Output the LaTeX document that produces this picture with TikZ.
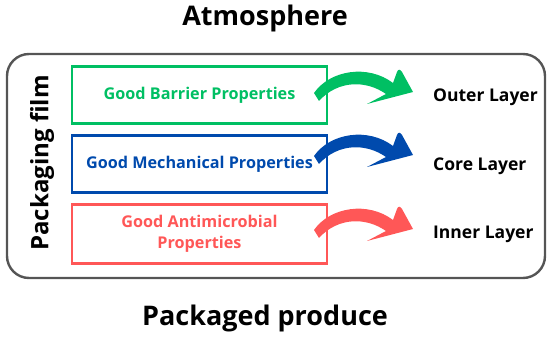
\documentclass[tikz,border=0pt]{standalone}
\usepackage{fontspec}
\setmainfont{Open Sans}
\definecolor{cgreen}{HTML}{00BF63}
\definecolor{cblue}{HTML}{004AAD}
\definecolor{cred}{HTML}{FF5757}
\definecolor{frame}{HTML}{555555}
\tikzset{
  propbox/.style={draw=#1, line width=2.4pt, minimum width=255pt, minimum height=57pt, text=#1, font=\bfseries\fontsize{16.2}{21}\selectfont, align=center, inner sep=0pt},
  layerlbl/.style={anchor=west, font=\bfseries\fontsize{17.5}{20}\selectfont, inner sep=0pt},
  titlelbl/.style={font=\bfseries\fontsize{27}{32}\selectfont, inner sep=0pt},
}
\newcommand{\bentarrow}[2]{%
  \fill[#1, yshift=-#2pt] (314,93) .. controls (330,70) and (368,64) .. (393,83) -- (397,72) .. controls (398,69) and (400,69) .. (402,72) -- (413,92) -- (367,104) -- (386,94) .. controls (366,80) and (338,80) .. (319,101) -- cycle;}
\begin{document}
\begin{tikzpicture}[x=1pt,y=-1pt]
\useasboundingbox (0,0) rectangle (550,339);
\node[titlelbl] (atm) at (265,18) {Atmosphere};
\node[titlelbl] (prod) at (265,318) {Packaged produce};
\draw[frame, line width=2.4pt, rounded corners=22pt] (7,54) rectangle (545,278);
\node[rotate=90, font=\bfseries\fontsize{24}{28}\selectfont, inner sep=0pt] (film) at (42,163) {Packaging film};
\node[propbox=cgreen] (barrier) at (199.5,95) {Good Barrier Properties};
\node[propbox=cblue] (mech) at (199.5,164) {Good Mechanical Properties};
\node[propbox=cred, minimum height=59pt] (anti) at (199.5,234) {Good Antimicrobial\\Properties};
\node[layerlbl] (outer) at (433,97) {Outer Layer};
\node[layerlbl] (core) at (433,166) {Core Layer};
\node[layerlbl] (inner) at (433,234) {Inner Layer};
\bentarrow{cgreen}{0}
\bentarrow{cblue}{63}
\bentarrow{cred}{137}
\end{tikzpicture}
\end{document}
